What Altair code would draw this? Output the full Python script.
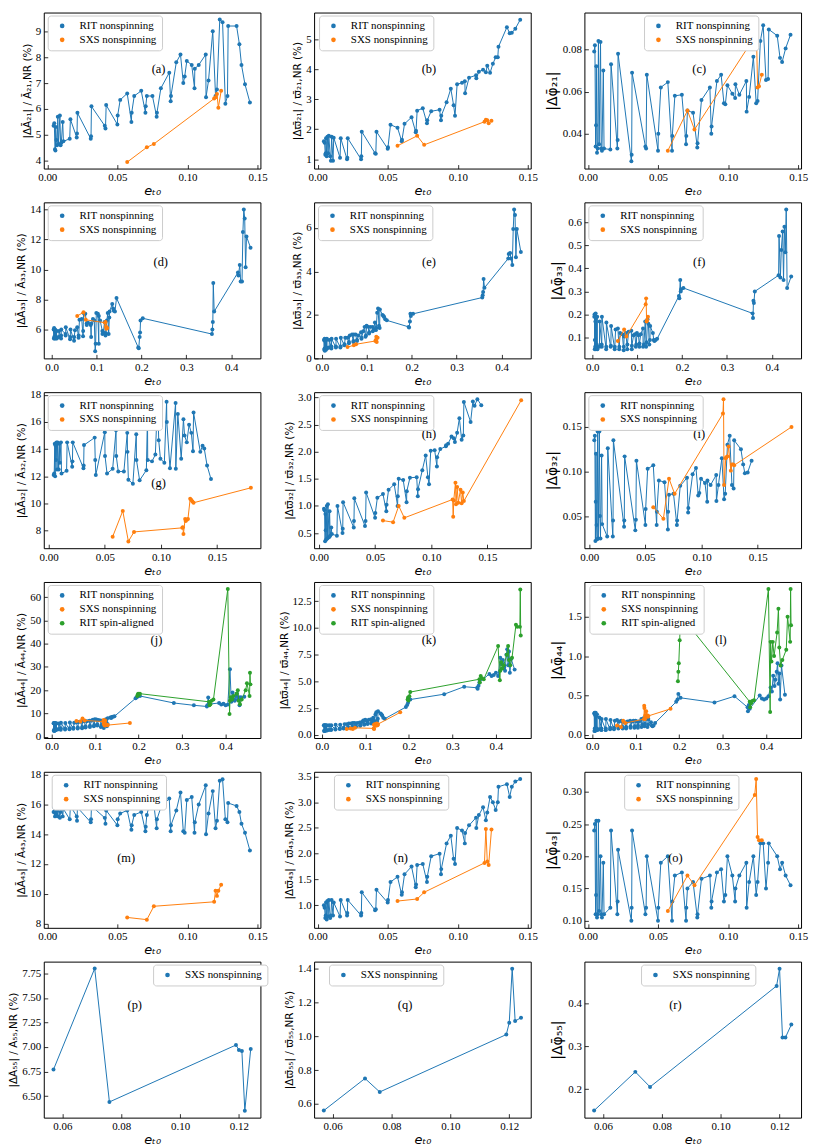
import altair as alt
import pandas as pd

BLUE = "#1f77b4"
ORANGE = "#ff7f0e"
GREEN = "#2ca02c"
RIT = "RIT nonspinning"
SXS = "SXS nonspinning"
SA = "RIT spin-aligned"

# ---------------- data ----------------
X_LO = [0.0045, 0.0050, 0.0055, 0.0058, 0.0060, 0.0065, 0.0070, 0.0075, 0.0080, 0.0090,
        0.0095, 0.0100, 0.0110, 0.0115, 0.0160, 0.0165, 0.0210, 0.0212, 0.0215, 0.0310,
        0.0312, 0.0315, 0.0410, 0.0415, 0.0420, 0.0500, 0.0502, 0.0520, 0.0570, 0.0600,
        0.0602, 0.0620, 0.0670, 0.0700, 0.0702, 0.0710, 0.0750, 0.0780, 0.0782, 0.0810,
        0.0870, 0.0880, 0.0882, 0.0920, 0.0950, 0.0970, 0.0980, 0.0995, 0.1030, 0.1050,
        0.1052, 0.1080, 0.1130, 0.1132, 0.1150, 0.1180, 0.1200, 0.1210, 0.1230, 0.1250,
        0.1270, 0.1285, 0.1290, 0.1350, 0.1370, 0.1385, 0.1410, 0.1445]
X_TAIL_D = [0.193, 0.194, 0.196, 0.197, 0.198, 0.203, 0.357, 0.358, 0.359, 0.360, 0.362,
            0.415, 0.416, 0.419, 0.421, 0.424, 0.426, 0.428, 0.430, 0.432, 0.434, 0.443]
X_TAIL_J = [0.193, 0.196, 0.198, 0.203, 0.281, 0.327, 0.357, 0.358, 0.360, 0.362, 0.385,
            0.390, 0.395, 0.400, 0.405, 0.410, 0.413, 0.416, 0.419, 0.421, 0.424, 0.426,
            0.428, 0.430, 0.432, 0.435, 0.443]
X_SA = [0.197, 0.198, 0.199, 0.201, 0.203, 0.362, 0.363, 0.365, 0.368, 0.372, 0.405, 0.409,
        0.410, 0.412, 0.415, 0.418, 0.425, 0.428, 0.430, 0.433, 0.437, 0.446, 0.449, 0.455,
        0.456, 0.457]
SXS_X = [0.057, 0.071, 0.076, 0.119, 0.120, 0.121, 0.122, 0.124]
SXS_X2 = [0.057, 0.066, 0.071, 0.076, 0.119, 0.1195, 0.120, 0.1215, 0.122, 0.123, 0.124,
          0.126, 0.127, 0.128, 0.129, 0.180]

A_RIT = [5.35, 5.45, 4.45, 4.40, 5.30, 4.80, 4.60, 5.70, 4.65, 5.75,
         4.60, 4.70, 5.50, 4.75, 4.85, 5.60, 4.90, 5.05, 5.85, 4.85,
         4.95, 6.10, 5.35, 5.25, 6.15, 5.40, 5.75, 6.35, 6.60, 5.50,
         5.85, 6.50, 6.70, 5.85, 6.10, 6.50, 6.50, 5.70, 5.85, 6.80,
         7.40, 6.30, 6.50, 7.80, 8.10, 7.00, 7.25, 7.85, 7.70, 6.80,
         7.55, 7.70, 8.10, 6.45, 7.10, 9.00, 6.50, 6.75, 9.45, 9.35,
         6.20, 6.50, 9.20, 9.20, 8.50, 7.70, 6.95, 6.25]
A_SXS = [3.95, 4.52, 4.65, 6.40, 6.45, 6.58, 6.05, 6.70]

B_RIT = [1.60, 1.55, 1.15, 1.20, 1.70, 1.10, 1.75, 1.20, 1.78, 1.10,
         0.95, 1.75, 0.95, 1.72, 1.05, 1.70, 1.00, 1.05, 1.70, 1.00,
         1.10, 1.92, 1.20, 1.18, 1.92, 1.35, 1.40, 2.15, 2.05, 1.60,
         1.65, 2.18, 2.40, 1.90, 1.95, 2.62, 2.70, 2.20, 2.30, 2.60,
         2.65, 2.30, 2.45, 2.90, 3.35, 2.80, 2.45, 3.50, 3.55, 3.60,
         3.20, 3.72, 3.80, 3.70, 3.92, 3.98, 3.90, 4.12, 3.88, 4.18,
         4.40, 4.40, 4.75, 5.40, 5.20, 5.22, 5.35, 5.65]
B_SXS = [1.45, 1.78, 1.48, 2.25, 2.32, 2.30, 2.20, 2.28]

C_RIT = [0.079, 0.082, 0.034, 0.044, 0.072, 0.031, 0.033, 0.084, 0.035, 0.0835,
         0.033, 0.032, 0.070, 0.033, 0.0325, 0.073, 0.033, 0.037, 0.078, 0.027,
         0.030, 0.069, 0.034, 0.033, 0.068, 0.032, 0.040, 0.062, 0.0645, 0.032,
         0.039, 0.058, 0.0585, 0.035, 0.039, 0.051, 0.050, 0.0335, 0.0355, 0.056,
         0.062, 0.040, 0.0435, 0.065, 0.068, 0.0545, 0.054, 0.063, 0.059, 0.057,
         0.0635, 0.0585, 0.065, 0.0505, 0.0575, 0.0765, 0.0545, 0.0555, 0.084, 0.0915,
         0.0655, 0.066, 0.0895, 0.0865, 0.076, 0.074, 0.0805, 0.087]
C_SXS = [0.032, 0.051, 0.042, 0.086, 0.094, 0.062, 0.0625, 0.068]

D_RIT = [6.0, 5.4, 6.1, 5.5, 6.0, 5.4, 5.9, 5.5, 6.0, 5.4,
         5.9, 5.5, 5.9, 5.4, 5.5, 5.9, 5.4, 5.6, 6.0, 5.7,
         5.6, 6.15, 5.35, 5.5, 6.0, 5.25, 5.5, 5.95, 6.15, 5.45,
         5.6, 6.65, 6.7, 5.55, 5.9, 7.1, 7.05, 6.4, 6.3, 6.45,
         6.3, 5.5, 6.4, 6.7, 6.6, 4.55, 5.05, 7.1, 7.05, 5.05,
         6.9, 6.6, 5.9, 5.7, 5.8, 6.5, 5.6, 5.75, 6.6, 7.1,
         5.7, 6.8, 7.2, 7.7, 7.4, 7.25, 7.2, 8.1,
         4.8, 4.75, 5.5, 5.8, 6.6, 6.75, 5.7, 6.0, 6.5, 9.1, 7.2,
         9.8, 9.6, 10.3, 9.2, 9.2, 12.5, 14.0, 13.4, 10.15, 12.2, 11.45]
D_SXS = [6.9, 7.15, 6.65, 6.45, 6.5, 6.2, 6.05, 6.1]

E_RIT = [0.85, 0.4, 0.85, 0.45, 0.9, 0.35, 0.8, 0.45, 0.85, 0.4,
         0.85, 0.5, 0.9, 0.45, 0.5, 0.85, 0.45, 0.55, 0.9, 0.5,
         0.55, 0.9, 0.5, 0.55, 0.95, 0.6, 0.65, 0.95, 0.95, 0.7,
         0.75, 1.05, 1.1, 0.75, 0.8, 1.1, 1.1, 0.8, 0.85, 1.05,
         1.2, 0.9, 0.95, 1.25, 1.45, 1.0, 1.05, 1.5, 1.45, 1.15,
         1.2, 1.45, 1.45, 1.25, 1.35, 1.65, 1.3, 1.4, 2.1, 2.3,
         1.5, 1.4, 2.25, 2.0, 1.95, 1.9, 1.8, 1.75,
         1.45, 1.42, 1.7, 2.05, 1.95, 2.05, 2.8, 2.9, 3.05, 3.65, 3.25,
         4.6, 4.8, 4.85, 4.6, 4.3, 5.95, 6.85, 6.6, 4.65, 5.95, 4.9]
E_SXS = [0.52, 0.6, 0.65, 0.8, 0.85, 1.0, 0.75, 0.95]

F_RIT = [0.19, 0.2, 0.05, 0.09, 0.2, 0.06, 0.17, 0.205, 0.05, 0.19,
         0.06, 0.07, 0.19, 0.05, 0.06, 0.17, 0.07, 0.06, 0.19, 0.05,
         0.06, 0.165, 0.06, 0.065, 0.15, 0.05, 0.06, 0.135, 0.14, 0.05,
         0.06, 0.12, 0.115, 0.045, 0.06, 0.105, 0.12, 0.05, 0.07, 0.125,
         0.13, 0.05, 0.065, 0.11, 0.115, 0.06, 0.07, 0.12, 0.11, 0.06,
         0.075, 0.115, 0.14, 0.06, 0.07, 0.17, 0.06, 0.08, 0.18, 0.16,
         0.07, 0.09, 0.15, 0.12, 0.09, 0.085, 0.09, 0.095,
         0.28, 0.27, 0.35, 0.30, 0.31, 0.315, 0.205, 0.185, 0.26, 0.25, 0.30,
         0.37, 0.54, 0.36, 0.48, 0.56, 0.35, 0.58, 0.47, 0.655, 0.315, 0.365]
F_SXS = [0.085, 0.135, 0.105, 0.245, 0.27, 0.17, 0.175, 0.19]

G_RIT = [12.1, 12.2, 14.4, 12.0, 14.3, 13.2, 14.5, 12.5, 14.5, 12.5,
         14.4, 13.0, 14.5, 12.2, 12.4, 14.5, 12.7, 13.1, 14.5, 12.6,
         12.8, 14.3, 14.85, 13.2, 12.1, 15.25, 13.5, 12.2, 12.55, 15.4,
         13.5, 12.35, 12.35, 15.2, 13.8, 11.75, 11.45, 15.1, 13.2, 11.7,
         12.45, 16.5, 13.2, 13.1, 13.6, 17.7, 14.65, 13.3, 13.0, 17.5,
         16.0, 12.6, 17.4, 12.55, 16.6, 13.3, 16.2, 15.0, 14.5, 15.8,
         15.2, 13.85, 16.7, 13.8, 14.25, 14.05, 12.8, 11.8]
G_SXS = [7.55, 9.45, 7.2, 7.9, 8.2, 8.25, 7.75, 8.85, 8.7, 8.8, 8.85, 10.35, 10.25,
         10.15, 10.05, 11.15]

H_RIT = [0.95, 0.92, 0.35, 0.85, 0.55, 0.38, 1.0, 0.4, 1.03, 0.42,
         0.9, 0.45, 0.6, 0.48, 0.45, 1.0, 0.5, 0.58, 1.07, 0.6,
         0.72, 1.14, 0.63, 0.72, 1.25, 0.78, 0.87, 1.15, 1.22, 0.9,
         1.02, 1.3, 1.4, 1.0, 1.18, 1.5, 1.48, 1.07, 1.27, 1.52,
         1.53, 1.18, 1.31, 1.66, 1.93, 1.53, 1.4, 2.02, 2.03, 1.73,
         1.9, 2.05, 2.1, 2.12, 2.15, 2.28, 2.25, 2.18, 2.35, 2.62,
         2.22, 2.3, 2.92, 2.55, 2.93, 2.85, 2.97, 2.86]
H_SXS = [0.73, 0.70, 1.0, 0.78, 1.12, 0.80, 1.10, 1.43, 1.03, 1.35, 1.06, 1.30, 1.05,
         1.25, 1.09, 2.95]

I_RIT = [0.135, 0.14, 0.022, 0.066, 0.12, 0.04, 0.024, 0.145, 0.025, 0.145,
         0.05, 0.025, 0.118, 0.041, 0.027, 0.126, 0.027, 0.045, 0.135, 0.038,
         0.045, 0.117, 0.034, 0.046, 0.112, 0.04, 0.058, 0.103, 0.107, 0.04,
         0.055, 0.09, 0.088, 0.035, 0.055, 0.074, 0.075, 0.04, 0.045, 0.084,
         0.093, 0.054, 0.059, 0.097, 0.104, 0.073, 0.076, 0.092, 0.087, 0.066,
         0.09, 0.085, 0.096, 0.067, 0.085, 0.115, 0.069, 0.075, 0.13, 0.14,
         0.085, 0.081, 0.135, 0.125, 0.108, 0.098, 0.099, 0.112]
I_SXS = [0.060, 0.047, 0.092, 0.075, 0.165, 0.181, 0.085, 0.115, 0.116, 0.117, 0.128,
         0.101, 0.108, 0.108, 0.107, 0.150]

J_RIT = [5.8, 2.6, 5.9, 3.0, 5.7, 2.5, 5.8, 3.2, 5.9, 2.8,
         5.6, 3.4, 5.8, 3.0, 3.2, 5.7, 3.0, 3.6, 6.0, 3.1,
         3.5, 5.9, 3.2, 3.6, 6.1, 3.4, 3.9, 6.0, 6.2, 3.5,
         4.0, 6.3, 6.5, 3.6, 4.2, 6.5, 6.8, 4.0, 4.4, 6.7,
         6.9, 4.2, 4.7, 7.0, 7.3, 4.5, 5.0, 7.5, 7.4, 4.8,
         5.3, 7.2, 7.0, 4.2, 5.0, 6.8, 3.8, 5.2, 7.0, 7.5,
         4.5, 5.5, 8.0, 8.3, 8.0, 8.5, 8.6, 8.8,
         16.5, 17.0, 17.5, 17.5, 14.5, 13.5, 13.0, 13.5, 16.9, 14.0, 14.5,
         13.8, 14.2, 13.5, 13.8, 29.0, 15.0, 19.0, 16.0, 15.5, 17.5, 18.5,
         16.0, 17.0, 13.5, 17.0, 17.2]
J_SXS = [6.8, 6.5, 7.8, 7.0, 6.5, 7.2, 5.5, 6.8, 4.8, 7.0, 5.5, 5.0, 5.2, 4.9, 5.0, 5.9]
J_SA = [17.5, 18.0, 18.5, 18.0, 18.5, 15.0, 13.5, 14.0, 15.5, 16.0, 63.5, 9.8, 15.5,
        17.0, 16.0, 17.5, 18.5, 20.0, 15.5, 14.0, 16.0, 20.0, 23.0, 17.5, 27.5, 22.5]

K_RIT = [0.9, 0.35, 0.85, 0.4, 0.9, 0.35, 0.85, 0.45, 0.9, 0.4,
         0.85, 0.45, 0.9, 0.4, 0.45, 0.9, 0.45, 0.5, 0.9, 0.5,
         0.55, 0.95, 0.55, 0.6, 0.95, 0.6, 0.65, 1.0, 1.0, 0.65,
         0.7, 1.05, 1.05, 0.7, 0.75, 1.1, 1.1, 0.75, 0.8, 1.1,
         1.15, 0.85, 0.9, 1.2, 1.35, 0.95, 1.0, 1.4, 1.35, 1.0,
         1.1, 1.4, 1.45, 1.05, 1.2, 1.6, 1.15, 1.3, 1.9, 2.1,
         1.3, 1.5, 2.2, 2.0, 1.9, 1.8, 1.6, 1.5,
         2.6, 2.8, 3.0, 3.3, 3.8, 4.5, 4.4, 4.3, 4.6, 4.9, 5.7,
         5.5, 5.6, 5.8, 5.5, 7.2, 6.6, 7.0, 6.3, 6.0, 7.5, 8.0,
         6.5, 7.8, 5.8, 7.1, 6.1]
K_SXS = [0.55, 0.6, 0.55, 0.65, 0.6, 0.95, 0.55, 1.0, 0.9, 1.0, 0.85, 1.05, 0.95, 0.9,
         1.0, 2.1]
K_SA = [3.3, 3.5, 3.2, 3.6, 4.0, 5.2, 4.9, 5.5, 5.3, 5.2, 8.3, 5.1, 6.0, 6.8, 6.2, 6.5,
        7.5, 8.3, 7.0, 6.5, 7.2, 10.3, 10.1, 10.1, 13.6, 9.3]

L_RIT = [0.27, 0.05, 0.28, 0.08, 0.27, 0.05, 0.25, 0.07, 0.28, 0.06,
         0.24, 0.08, 0.26, 0.06, 0.07, 0.22, 0.06, 0.08, 0.2, 0.06,
         0.08, 0.2, 0.07, 0.09, 0.19, 0.07, 0.09, 0.18, 0.19, 0.08,
         0.1, 0.17, 0.18, 0.08, 0.1, 0.17, 0.16, 0.08, 0.1, 0.17,
         0.18, 0.09, 0.11, 0.17, 0.18, 0.09, 0.11, 0.18, 0.17, 0.09,
         0.12, 0.17, 0.2, 0.1, 0.13, 0.21, 0.11, 0.14, 0.22, 0.2,
         0.1, 0.13, 0.2, 0.16, 0.12, 0.11, 0.12, 0.15,
         0.42, 0.45, 0.52, 0.47, 0.41, 0.49, 0.35, 0.30, 0.38, 0.33, 0.50,
         0.46, 0.45, 0.46, 0.49, 0.60, 0.55, 0.75, 0.62, 0.70, 0.80, 0.91,
         0.65, 0.78, 0.45, 0.88, 0.51]
L_SXS = [0.12, 0.10, 0.18, 0.15, 0.2, 0.37, 0.34, 0.2, 0.25, 0.24, 0.3, 0.25, 0.24,
         0.23, 0.24, 0.33]
L_SA = [0.68, 0.80, 0.91, 1.2, 1.52, 0.42, 0.35, 0.40, 0.43, 0.44, 1.85, 0.29, 1.18,
        0.93, 1.18, 1.0, 1.3, 1.6, 1.11, 0.88, 0.95, 1.08, 1.5, 1.18, 1.85, 1.39]

M_RIT = [15.5, 15.8, 15.2, 15.4, 15.9, 15.3, 15.6, 15.2, 15.8, 15.1,
         15.5, 15.9, 15.2, 15.7, 15.0, 15.9, 15.2, 14.9, 15.8, 14.8,
         15.0, 15.9, 15.1, 14.7, 15.6, 14.6, 15.0, 15.4, 15.6, 14.3,
         14.6, 15.3, 15.5, 14.2, 14.5, 15.3, 16.8, 14.4, 15.0, 15.8,
         16.4, 14.2, 14.6, 15.6, 16.8, 14.2, 14.1, 16.3, 16.5, 14.1,
         14.8, 16.0, 17.3, 14.0, 15.4, 16.9, 14.4, 14.9, 17.6, 17.7,
         15.0, 14.8, 16.1, 15.9, 15.5, 14.7, 14.1, 12.9]
M_SXS = [8.4, 8.25, 9.15, 9.45, 10.2, 9.85, 10.2, 10.6]

N_RIT = [1.0, 0.95, 0.75, 0.8, 1.05, 0.72, 1.08, 0.78, 1.1, 0.75,
         0.8, 1.1, 0.8, 1.05, 0.78, 1.1, 0.8, 0.85, 1.1, 0.8,
         0.85, 1.25, 0.9, 0.92, 1.3, 1.05, 1.1, 1.45, 1.55, 1.2,
         1.25, 1.6, 1.75, 1.35, 1.4, 1.78, 1.8, 1.45, 1.55, 1.95,
         2.0, 1.6, 1.7, 2.2, 2.35, 1.9, 1.8, 2.5, 2.45, 2.2,
         2.4, 2.55, 2.7, 2.5, 2.75, 2.9, 2.65, 2.8, 3.1, 3.0,
         2.85, 3.0, 3.3, 3.35, 3.1, 3.3, 3.4, 3.45]
N_SXS = [1.08, 1.12, 1.25, 1.82, 2.48, 1.85, 1.78, 2.47]

O_RIT = [0.24, 0.25, 0.11, 0.14, 0.255, 0.105, 0.11, 0.255, 0.115, 0.2,
         0.11, 0.105, 0.19, 0.11, 0.12, 0.24, 0.11, 0.13, 0.21, 0.1,
         0.12, 0.24, 0.11, 0.12, 0.2, 0.1, 0.12, 0.19, 0.2, 0.1,
         0.13, 0.17, 0.175, 0.1, 0.12, 0.15, 0.16, 0.105, 0.11, 0.165,
         0.17, 0.12, 0.13, 0.175, 0.18, 0.13, 0.14, 0.2, 0.17, 0.13,
         0.15, 0.17, 0.19, 0.12, 0.16, 0.2, 0.14, 0.16, 0.22, 0.22,
         0.15, 0.19, 0.22, 0.2, 0.18, 0.19, 0.17, 0.155]
O_SXS = [0.115, 0.17, 0.155, 0.295, 0.32, 0.23, 0.225, 0.225]

P_SXS = [6.77, 7.80, 6.44, 7.02, 6.97, 6.96, 6.35, 6.98]
Q_SXS = [0.56, 0.75, 0.67, 1.01, 1.08, 1.40, 1.09, 1.11]
R_SXS = [0.15, 0.24, 0.205, 0.44, 0.48, 0.32, 0.32, 0.35]

X_D = X_LO + X_TAIL_D
X_J = X_LO + X_TAIL_J

# ---------------- layout ----------------
W, H = 218, 157
SERIF = "Liberation Serif"
SANS = "DejaVu Sans"


def panel(letter, series, xdom, xticks, xfmt, ydom, yticks, yfmt, ytitle, ytsize,
          leg_xy, lab_xy):
    names = [s[0] for s in series]
    cols = [s[3] for s in series]
    scale = alt.Scale(domain=names, range=cols)
    xenc = alt.X("x:Q", scale=alt.Scale(domain=xdom, nice=False, zero=False),
                 axis=alt.Axis(values=xticks, format=xfmt, title="eₜ₀"))
    yenc = alt.Y("y:Q", scale=alt.Scale(domain=ydom, nice=False, zero=False),
                 axis=alt.Axis(values=yticks, format=yfmt, title=ytitle,
                               titleFontSize=ytsize))
    legend = alt.Legend(title=None, orient="none", legendX=leg_xy[0], legendY=leg_xy[1],
                        fillColor="white", strokeColor="#cccccc", cornerRadius=3,
                        padding=5, labelFont=SERIF, labelFontSize=11,
                        labelColor="black", symbolType="circle", symbolSize=22,
                        symbolOffset=4, labelOffset=12,
                        rowPadding=2, labelLimit=300, symbolOpacity=1)
    layers = []
    for name, xs, ys, c in series:
        df = pd.DataFrame({"x": xs, "y": ys, "s": [name] * len(xs),
                           "k": list(range(len(xs)))})
        b = alt.Chart(df)
        layers.append(b.mark_line(strokeWidth=1, color=c).encode(
            x=xenc, y=yenc, order="k:Q"))
        layers.append(b.mark_circle(size=16, opacity=1).encode(
            x=xenc, y=yenc, color=alt.Color("s:N", scale=scale, legend=legend)))
    lab = alt.Chart(pd.DataFrame({"t": [f"({letter})"]})).mark_text(
        font=SERIF, fontSize=12.5, color="black").encode(
        text="t:N", x=alt.value(lab_xy[0] * W), y=alt.value(lab_xy[1] * H))
    layers.append(lab)
    return alt.layer(*layers).properties(width=W, height=H)


XD1 = [-0.0025, 0.152]
XT1 = [0.0, 0.05, 0.10, 0.15]
XD2 = [-0.0175, 0.465]
XT2 = [0.0, 0.1, 0.2, 0.3, 0.4]
XD3 = [-0.0043, 0.1885]
XD4 = [-0.018, 0.48]
XD5 = [0.0537, 0.1273]
XT5 = [0.06, 0.08, 0.10, 0.12]

pa = panel("a", [(RIT, X_LO, A_RIT, BLUE), (SXS, SXS_X, A_SXS, ORANGE)],
           XD1, XT1, ".2f", [3.7, 9.72], [4, 5, 6, 7, 8, 9], "d",
           "|ΔĀ₂₁| / Ā₂₁,NR (%)", 10.5, (4, 3), (0.53, 0.36))
pb = panel("b", [(RIT, X_LO, B_RIT, BLUE), (SXS, SXS_X, B_SXS, ORANGE)],
           XD1, XT1, ".2f", [0.69, 5.89], [1, 2, 3, 4, 5], "d",
           "|Δϖ̄₂₁| / ϖ̄₂₁,NR (%)", 10.5, (5, 3), (0.53, 0.36))
pc = panel("c", [(RIT, X_LO, C_RIT, BLUE), (SXS, SXS_X, C_SXS, ORANGE)],
           XD1, XT1, ".2f", [0.0235, 0.0975], [0.04, 0.06, 0.08], ".2f",
           "|Δφ̄₂₁|", 14, (60, 3), (0.53, 0.36))

pd_ = panel("d", [(RIT, X_D, D_RIT, BLUE), (SXS, SXS_X, D_SXS, ORANGE)],
            XD2, XT2, ".1f", [4.08, 14.47], [6, 8, 10, 12, 14], "d",
            "|ΔĀ₃₃| / Ā₃₃,NR (%)", 10.5, (4, 3), (0.54, 0.38))
pe = panel("e", [(RIT, X_D, E_RIT, BLUE), (SXS, SXS_X, E_SXS, ORANGE)],
           XD2, XT2, ".1f", [0.0, 7.18], [0, 2, 4, 6], "d",
           "|Δϖ̄₃₃| / ϖ̄₃₃,NR (%)", 10.5, (4, 3), (0.53, 0.38))
pf = panel("f", [(RIT, X_D, F_RIT, BLUE), (SXS, SXS_X, F_SXS, ORANGE)],
           XD2, XT2, ".1f", [0.01, 0.686], [0.1, 0.2, 0.3, 0.4, 0.5, 0.6], ".1f",
           "|Δφ̄₃₃|", 14, (4, 3), (0.53, 0.38))

pg = panel("g", [(RIT, X_LO, G_RIT, BLUE), (SXS, SXS_X2, G_SXS, ORANGE)],
           XD3, XT1, ".2f", [6.7, 18.2], [8, 10, 12, 14, 16, 18], "d",
           "|ΔĀ₃₂| / Ā₃₂,NR (%)", 10.5, (4, 3), (0.53, 0.58))
ph = panel("h", [(RIT, X_LO, H_RIT, BLUE), (SXS, SXS_X2, H_SXS, ORANGE)],
           XD3, XT1, ".2f", [0.22, 3.1], [0.5, 1.0, 1.5, 2.0, 2.5, 3.0], ".1f",
           "|Δϖ̄₃₂| / ϖ̄₃₂,NR (%)", 10.5, (5, 3), (0.53, 0.27))
pi = panel("i", [(RIT, X_LO, I_RIT, BLUE), (SXS, SXS_X2, I_SXS, ORANGE)],
           XD3, XT1, ".2f", [0.014, 0.189], [0.05, 0.10, 0.15], ".2f",
           "|Δφ̄₃₂|", 14, (4, 3), (0.53, 0.27))

pj = panel("j", [(RIT, X_J, J_RIT, BLUE), (SXS, SXS_X2, J_SXS, ORANGE),
                 (SA, X_SA, J_SA, GREEN)],
           XD4, XT2, ".1f", [-0.55, 66.5], [0, 10, 20, 30, 40, 50, 60], "d",
           "|ΔĀ₄₄| / Ā₄₄,NR (%)", 10.5, (4, 3), (0.52, 0.37))
pk = panel("k", [(RIT, X_J, K_RIT, BLUE), (SXS, SXS_X2, K_SXS, ORANGE),
                 (SA, X_SA, K_SA, GREEN)],
           XD4, XT2, ".1f", [-0.3, 14.3], [0.0, 2.5, 5.0, 7.5, 10.0, 12.5], ".1f",
           "|Δϖ̄₄₄| / ϖ̄₄₄,NR (%)", 10.5, (5, 3), (0.53, 0.37))
pl = panel("l", [(RIT, X_J, L_RIT, BLUE), (SXS, SXS_X2, L_SXS, ORANGE),
                 (SA, X_SA, L_SA, GREEN)],
           XD4, XT2, ".1f", [-0.04, 1.94], [0.0, 0.5, 1.0, 1.5], ".1f",
           "|Δφ̄₄₄|", 14, (5, 3), (0.63, 0.37))

pm = panel("m", [(RIT, X_LO, M_RIT, BLUE), (SXS, SXS_X, M_SXS, ORANGE)],
           XD1, XT1, ".2f", [7.7, 18.2], [8, 10, 12, 14, 16, 18], "d",
           "|ΔĀ₄₃| / Ā₄₃,NR (%)", 10.5, (8, 3), (0.38, 0.55))
pn = panel("n", [(RIT, X_LO, N_RIT, BLUE), (SXS, SXS_X, N_SXS, ORANGE)],
           XD1, XT1, ".2f", [0.56, 3.59], [1.0, 1.5, 2.0, 2.5, 3.0, 3.5], ".1f",
           "|Δϖ̄₄₃| / ϖ̄₄₃,NR (%)", 10.5, (20, 3), (0.40, 0.55))
po = panel("o", [(RIT, X_LO, O_RIT, BLUE), (SXS, SXS_X, O_SXS, ORANGE)],
           XD1, XT1, ".2f", [0.089, 0.331], [0.10, 0.15, 0.20, 0.25, 0.30], ".2f",
           "|Δφ̄₄₃|", 14, (40, 3), (0.42, 0.55))

pp = panel("p", [(SXS, SXS_X, P_SXS, BLUE)],
           XD5, XT5, ".2f", [6.28, 7.87], [6.50, 6.75, 7.00, 7.25, 7.50, 7.75], ".2f",
           "|ΔĀ₅₅| / Ā₅₅,NR (%)", 10.5, (110, 3), (0.42, 0.28))
pq = panel("q", [(SXS, SXS_X, Q_SXS, BLUE)],
           XD5, XT5, ".2f", [0.518, 1.442], [0.6, 0.8, 1.0, 1.2, 1.4], ".1f",
           "|Δϖ̄₅₅| / ϖ̄₅₅,NR (%)", 10.5, (15, 3), (0.42, 0.28))
pr = panel("r", [(SXS, SXS_X, R_SXS, BLUE)],
           XD5, XT5, ".2f", [0.1335, 0.4965], [0.2, 0.3, 0.4], ".1f",
           "|Δφ̄₅₅|", 14, (57, 3), (0.42, 0.28))

panels = [pa, pb, pc, pd_, pe, pf, pg, ph, pi, pj, pk, pl, pm, pn, po, pp, pq, pr]

chart = alt.concat(*panels, columns=3, spacing={"row": 34, "column": 54},
                   bounds="flush").resolve_scale(
    x="independent", y="independent", color="independent").resolve_legend(
    color="independent").properties(
    padding={"left": 0, "top": 0, "right": 0, "bottom": 0}, background="white"
).configure_view(stroke="black", strokeWidth=1).configure_axis(
    domain=False, grid=False, ticks=True, tickSize=4, offset=-4, tickColor="black",
    tickWidth=0.8, labelFont=SERIF, labelFontSize=11, labelColor="black",
    labelPadding=3, titleFont=SANS, titleColor="black", titleFontWeight="normal"
).configure_axisX(titleFontSize=13, titleFontStyle="italic", titlePadding=2
).configure_axisY(titlePadding=3)

chart.save("out.html", embed_options={"renderer": "svg", "actions": False})
